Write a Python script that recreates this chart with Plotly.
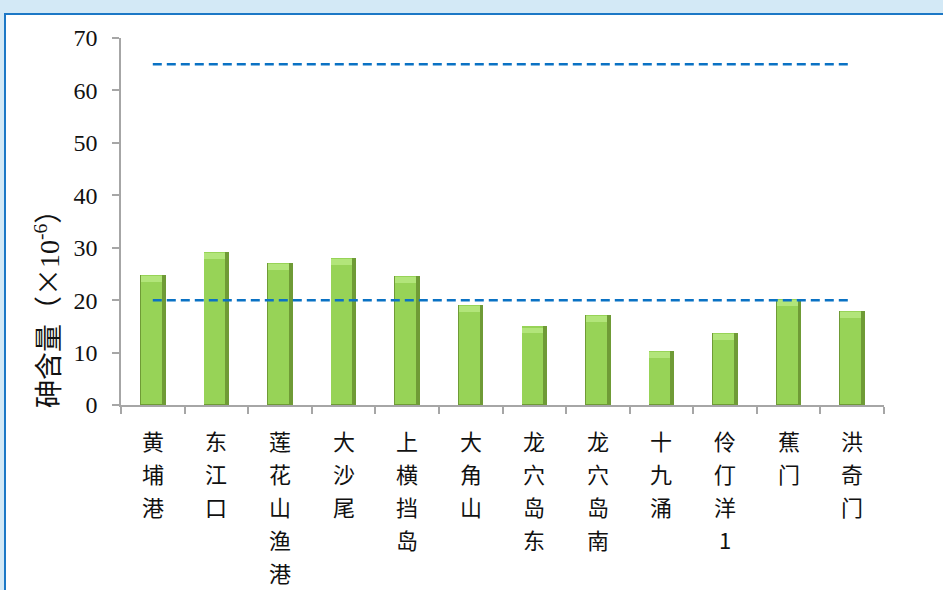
import plotly.graph_objects as go

# Sampling sites and arsenic content (×10^-6)
sites = ["黄埔港", "东江口", "莲花山渔港", "大沙尾", "上横挡岛", "大角山",
         "龙穴岛东", "龙穴岛南", "十九涌", "伶仃洋1", "蕉门", "洪奇门"]
arsenic = [24.8, 29.2, 27.1, 28.1, 24.6, 19.1, 15.0, 17.2, 10.3, 13.7, 20.3, 17.9]

# Reference levels drawn as dashed lines
standard_levels = [65, 20]

y_ticks = [0, 10, 20, 30, 40, 50, 60, 70]

W, H = 943, 590
ML, MR, MT, MB = 121, 59, 38, 185
PW, PH = W - ML - MR, H - MT - MB

fig = go.Figure()

# Bars: dark body with a lighter face to give an edged, bevelled look
fig.add_trace(go.Bar(
    x=sites, y=arsenic, width=0.4,
    marker=dict(color="#6F9B36", line=dict(width=0)),
    hoverinfo="skip", showlegend=False,
))
fig.add_trace(go.Bar(
    x=sites, y=[v - 0.25 for v in arsenic], base=[0.25] * len(arsenic),
    width=0.33, offset=-0.19,
    marker=dict(color="#97D357", line=dict(width=0)),
    hoverinfo="skip", showlegend=False,
))
# soft light cap at the top of every bar
cap = 1.1
fig.add_trace(go.Bar(
    x=sites, y=[cap] * len(arsenic), base=[v - cap - 0.25 for v in arsenic],
    width=0.33, offset=-0.19,
    marker=dict(color="#B2E57A", line=dict(width=0)),
    hoverinfo="skip", showlegend=False,
))

for lvl in standard_levels:
    fig.add_trace(go.Scatter(
        x=[sites[0], sites[-1]], y=[lvl, lvl], mode="lines",
        line=dict(color="#0A72C4", width=2.5, dash="9px,5px"),
        hoverinfo="skip", showlegend=False,
    ))

# Page frame: pale blue surround with a white panel and blue edge
def px_to_paper_x(px):
    return (px - ML) / PW

def px_to_paper_y(py):
    return (H - MB - py) / PH

fig.add_shape(type="rect", xref="paper", yref="paper", layer="below",
              x0=px_to_paper_x(5), x1=px_to_paper_x(W + 10),
              y0=px_to_paper_y(H + 10), y1=px_to_paper_y(14),
              fillcolor="white", line=dict(color="#1C78C6", width=2))

annotations = []
# Vertical category labels, one character per line
for s in sites:
    for j, ch in enumerate(s):
        annotations.append(dict(
            x=s, y=0, xref="x", yref="y", text=ch, showarrow=False,
            xanchor="center", yanchor="top", yshift=-(17 + 33 * j),
            font=dict(family="Noto Sans CJK SC", size=22, color="#111111"),
        ))

annotations.append(dict(
    x=px_to_paper_x(47), y=px_to_paper_y(302), xref="paper", yref="paper",
    text="砷含量（<span style=\"font-family:'Noto Sans CJK SC'\">×</span>10<sup>-6</sup>）",
    textangle=-90, showarrow=False,
    xanchor="center", yanchor="middle",
    font=dict(family="Liberation Serif, Noto Sans CJK SC", size=28, color="#111111"),
))

fig.update_layout(
    width=W, height=H, autosize=False,
    margin=dict(l=ML, r=MR, t=MT, b=MB, pad=0),
    paper_bgcolor="#D3E9F6", plot_bgcolor="white",
    barmode="overlay", bargap=0,
    annotations=annotations,
    xaxis=dict(
        type="category", range=[-0.5, len(sites) - 0.5],
        showline=True, linecolor="#A6A6A6", linewidth=1.5,
        ticks="outside", tickson="boundaries", ticklen=7,
        tickcolor="#A6A6A6", tickwidth=1.5,
        showticklabels=False, showgrid=False, zeroline=False, fixedrange=True,
    ),
    yaxis=dict(
        range=[0, 70], tickvals=y_ticks, ticktext=[str(t) for t in y_ticks],
        showline=True, linecolor="#A6A6A6", linewidth=1.5,
        ticks="outside", ticklen=7, tickcolor="#A6A6A6", tickwidth=1.5,
        ticklabelstandoff=10,
        tickfont=dict(family="Liberation Serif", size=24, color="#111111"),
        showgrid=False, zeroline=False, fixedrange=True,
    ),
)

fig.write_html("out.html")
